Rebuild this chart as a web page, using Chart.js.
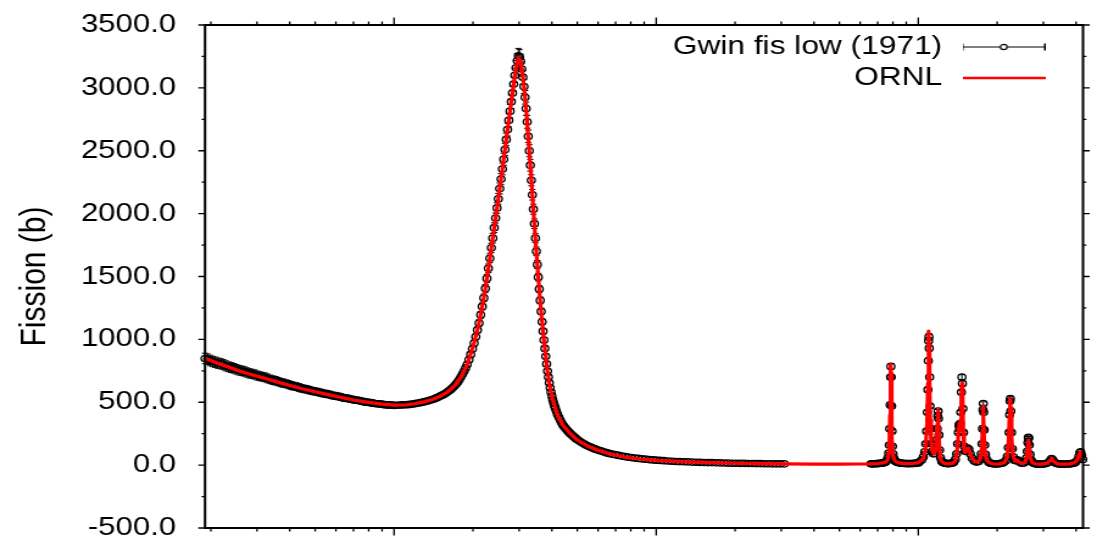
<!DOCTYPE html>
<html>
<head>
<meta charset="utf-8">
<script src="https://cdn.jsdelivr.net/npm/chart.js@4.4.1/dist/chart.umd.min.js"></script>
<style>
  html, body { margin: 0; padding: 0; background: #ffffff; }
  #wrap { width: 1097px; height: 540px; }
</style>
</head>
<body>
<div id="wrap"><canvas id="c" width="900" height="540" style="width:1097px;height:540px;display:block"></canvas></div>
<script>
// ---------------- data (energy in eV, cross section in barn) ----------------
const seriesNames = ['Gwin fis low (1971)', 'ORNL'];
const yTitle = 'Fission (b)';

const xMin = 0.019;
const xMax = 42.5;
const xMajorTicks = [0.1, 1, 10];
const xMinorTicks = [0.02, 0.03, 0.04, 0.05, 0.06, 0.07, 0.08, 0.09,
                     0.2, 0.3, 0.4, 0.5, 0.6, 0.7, 0.8, 0.9,
                     2, 3, 4, 5, 6, 7, 8, 9, 20, 30, 40];
const yTickValues = [-500, 0, 500, 1000, 1500, 2000, 2500, 3000, 3500];
const yTickLabels = ['-500.0', '0.0', '500.0', '1000.0', '1500.0', '2000.0', '2500.0', '3000.0', '3500.0'];
const yMinorTicks = [-250, 250, 750, 1250, 1750, 2250, 2750, 3250];

// Gwin (1971) measured points, low-energy segment
const gwinLowE = [0.0190,0.0199,0.0208,0.0218,0.0228,0.0239,0.0250,0.0262,0.0274,0.0287,
                  0.0300,0.0314,0.0329,0.0345,0.0361,0.0378,0.0396,0.0414,0.0434,0.0454,
                  0.0476,0.0498,0.0522,0.0546,0.0572,0.0599,0.0627,0.0656,0.0687,0.0720,
                  0.0754,0.0789,0.0826,0.0865,0.0906,0.0949,0.0993];
const gwinLowXS = [848,832,818,806,790,776,762,750,737,726,
                   713,703,690,676,664,652,640,628,617,606,
                   596,586,577,568,559,550,541,532,524,516,
                   508,500,494,488,483,479,476];
const gwinLowErr = [42,42,41,40,40,39,38,38,37,36,
                    36,35,35,34,33,33,32,31,31,30,
                    30,29,29,28,28,28,27,27,26,26,
                    25,25,25,24,24,24,24];

// Gwin (1971) low-energy segment, intermediate points
const gwinLow2E = [0.01945,0.02035,0.0213,0.0223,0.02335,0.02445,0.0256,0.0268,0.02805,0.02935,
                   0.0307,0.03215,0.0337,0.0353,0.03695,0.0387,0.0405,0.0424,0.0444,0.0465,
                   0.0487,0.0510,0.0534,0.0559,0.05855,0.0613,0.06415,0.06715,0.07035,0.0737,
                   0.07715,0.08075,0.08455,0.08855,0.09275,0.0971];
const gwinLow2XS = [842,824,811,799,782,770,755,745,730,721,
                    707,698,682,671,657,647,633,624,610,602,
                    590,582,571,564,553,546,535,529,519,513,
                    503,498,490,486,480,478];
const gwinLow2Err = [42,41,41,40,39,38,38,37,37,36,
                     35,35,34,34,33,32,32,31,30,30,
                     29,29,28,28,28,27,27,26,26,25,
                     25,25,24,24,24,24];

// Gwin (1971) measured points, 0.1 - 3.1 eV segment
const gwinMidE = [0.100,0.105,0.110,0.115,0.120,0.125,0.130,0.135,0.140,0.145,
                  0.150,0.155,0.160,0.165,0.170,0.175,0.180,0.185,0.190,0.193,
                  0.196,0.199,0.202,0.205,0.208,0.211,0.214,0.217,0.220,0.223,
                  0.226,0.229,0.232,0.235,0.238,0.241,0.244,0.247,0.250,0.253,
                  0.256,0.259,0.262,0.265,0.268,0.271,0.274,0.277,0.280,0.283,
                  0.286,0.289,0.292,0.295,0.298,0.301,0.304,0.307,0.310,0.313,
                  0.316,0.319,0.322,0.325,0.328,0.331,0.334,0.337,0.340,0.343,
                  0.346,0.349,0.352,0.355,0.358,0.361,0.364,0.367,0.370,0.373,
                  0.376,0.379,0.382,0.385,0.388,0.391,0.394,0.397,0.400,0.403,
                  0.406,0.409,0.412,0.420,0.430,0.440,0.450,0.460,0.470,0.480,
                  0.490,0.500,0.520,0.540,0.560,0.580,0.600,0.630,0.660,0.700,
                  0.740,0.780,0.830,0.880,0.940,1.00,1.07,1.15,1.23,1.32,
                  1.42,1.52,1.63,1.75,1.88,2.02,2.17,2.33,2.50,2.68,
                  2.88,3.08];
const gwinMidXS = [474,478,480,483,489,496,503,512,522,534,
                   549,563,583,604,631,662,702,748,800,838,
                   880,925,970,1020,1075,1130,1195,1262,1330,1405,
                   1485,1565,1645,1728,1805,1888,1965,2045,2118,2200,
                   2275,2355,2432,2510,2590,2668,2742,2815,2890,2960,
                   3030,3100,3160,3215,3255,3245,3210,3150,3085,3010,
                   2925,2835,2730,2615,2500,2385,2265,2150,2035,1920,
                   1805,1700,1595,1495,1400,1310,1222,1140,1065,995,
                   928,865,805,748,700,655,615,580,550,522,
                   497,475,455,405,360,322,295,272,252,235,
                   218,203,180,160,145,131,120,106,93,82,
                   72,64,56,50,44,39,35,31,28,26,
                   23,21,20,18,16,15,14,13,12,11,
                   10,10];
const gwinMidErr = [12,12,12,12,12,12,12,12,13,13,
                    13,14,14,15,15,16,17,18,19,20,
                    21,22,23,24,25,26,27,28,30,31,
                    32,34,35,36,38,39,40,42,43,44,
                    45,47,48,49,50,51,52,53,54,55,
                    56,57,58,58,59,59,58,57,56,55,
                    54,53,51,50,48,46,44,42,40,38,
                    36,34,32,30,28,27,25,24,22,21,
                    20,19,18,17,16,15,14,14,13,12,
                    12,11,11,10,9,8,7,7,6,6,
                    6,5,5,4,4,4,3,3,3,3,
                    2,2,2,2,2,2,2,2,2,2,
                    2,2,2,2,2,2,2,2,2,2,
                    2,2];

// Gwin (1971) 0.1 - 3.1 eV segment, intermediate points
const gwinMid2E = [0.1025,0.1075,0.1125,0.1175,0.1225,0.1275,0.1325,0.1375,0.1425,0.1475,
                   0.1525,0.1575,0.1625,0.1675,0.1725,0.1775,0.1825,0.1875,
                   0.416,0.425,0.435,0.445,0.455,0.465,0.475,0.485,0.495,0.510,
                   0.530,0.550,0.570,0.590,0.615,0.645,0.680,0.720,0.760,0.805,
                   0.855,0.910,0.970,1.035,1.11,1.19,1.275,1.37,1.47,1.575,
                   1.69,1.815,1.95,2.095,2.25,2.415,2.59,2.78,2.98];
const gwinMid2XS = [476,479,481,486,492,499,507,517,528,541,
                    556,573,593,617,646,681,724,773,
                    430,382,340,308,283,262,243,226,210,191,
                    170,152,138,125,113,99,87,77,68,60,
                    53,47,41,37,33,29,27,24,22,20,
                    19,17,15,14,13,12,11,10,10];
const gwinMid2Err = [12,12,12,12,12,12,12,13,13,13,
                     14,14,15,15,16,17,18,19,
                     10,9,8,8,7,7,6,6,6,5,
                     5,4,4,4,3,3,3,3,2,2,
                     2,2,2,2,2,2,2,2,2,2,
                     2,2,2,2,2,2,2,2,2];

// Gwin (1971) measured points, resonance segment
const gwinResE = [6.60,6.75,6.90,7.05,7.20,7.32,7.42,7.52,7.60,7.66,
                  7.71,7.75,7.78,7.81,7.84,7.86,7.88,7.91,7.94,7.97,
                  8.01,8.07,8.15,8.28,8.45,8.65,8.90,9.15,9.40,9.65,
                  9.90,10.10,10.30,10.45,10.58,10.68,10.76,10.83,10.88,10.92,
                  10.95,10.98,11.01,11.05,11.09,11.14,11.21,11.30,11.42,11.55,
                  11.65,11.73,11.80,11.86,11.90,11.94,11.99,12.06,12.15,12.28,
                  12.45,12.70,12.95,13.20,13.45,13.65,13.85,14.00,14.12,14.22,
                  14.30,14.36,14.44,14.52,14.60,14.67,14.73,14.80,14.88,14.98,
                  15.10,15.25,15.42,15.60,15.80,16.05,16.35,16.65,16.95,17.20,
                  17.38,17.50,17.58,17.65,17.70,17.76,17.83,17.92,18.05,18.25,
                  18.55,18.90,19.30,19.75,20.20,20.70,21.15,21.55,21.85,22.05,
                  22.20,22.30,22.38,22.45,22.55,22.68,22.85,23.05,23.30,23.60,
                  23.85,24.10,24.45,24.85,25.25,25.60,25.85,26.05,26.20,26.30,
                  26.40,26.52,26.70,26.95,27.30,27.80,28.40,29.10,29.90,30.70,
                  31.40,31.90,32.25,32.60,33.10,33.80,34.70,35.70,36.80,37.90,
                  38.90,39.80,40.50,41.00,41.35,41.65,42.00,42.40];
const gwinResXS = [10,11,12,13,15,17,21,27,38,58,
                   95,160,290,480,700,785,700,470,270,150,
                   90,55,35,24,18,15,13,12,13,15,
                   19,26,40,65,105,170,270,420,600,830,
                   990,1020,930,700,470,290,170,110,90,95,
                   130,200,290,390,430,370,240,120,60,32,
                   20,14,12,13,16,24,45,90,170,260,
                   320,300,330,420,580,700,650,450,260,150,
                   110,115,135,125,90,55,32,24,28,45,
                   90,170,290,440,490,420,280,160,85,45,
                   24,15,11,10,11,14,20,35,70,140,
                   260,400,510,530,430,260,130,65,38,35,
                   42,35,22,15,17,28,55,110,180,220,
                   215,160,85,40,20,12,9,8,9,13,
                   22,38,52,42,22,12,9,8,9,10,
                   14,22,40,70,100,106,80,45];
const gwinResErr = [2,2,2,2,2,2,2,2,3,4,
                    5,7,10,15,20,22,20,15,10,7,
                    5,4,3,2,2,2,2,2,2,2,
                    2,2,3,4,5,7,10,13,17,22,
                    25,26,24,19,14,10,7,5,4,4,
                    5,7,9,11,12,11,8,5,4,3,
                    2,2,2,2,2,2,3,5,7,9,
                    10,10,10,12,16,19,18,13,9,6,
                    5,5,5,5,4,3,3,2,2,3,
                    4,7,9,12,13,12,9,6,4,3,
                    2,2,2,2,2,2,2,3,4,6,
                    8,11,14,14,12,8,5,4,3,3,
                    3,3,2,2,2,2,3,5,7,8,
                    8,6,4,3,2,2,2,2,2,2,
                    2,3,3,3,2,2,2,2,2,2,
                    2,2,3,4,5,5,4,3];

// Gwin (1971) resonance segment, extra points between the peaks
const gwinRes2E = [6.68,6.83,6.98,7.12,7.26,7.37,7.47,
                   8.21,8.36,8.55,8.77,9.02,9.27,9.52,9.77,10.0,
                   12.36,12.57,12.82,13.07,13.32,13.55,
                   18.72,19.1,19.52,19.97,20.45,20.92,
                   27.05,27.55,28.1,28.75,29.5,30.3,
                   33.45,34.25,35.2,36.25,37.35,38.4,39.35];
const gwinRes2XS = [10,11,12,14,16,19,24,
                    29,21,16,14,12,12,12,14,17,
                    25,17,13,12,14,19,
                    19,13,10,10,12,17,
                    30,16,10,8,8,11,
                    16,10,8,8,9,12,17];
const gwinRes2Err = [2,2,2,2,2,2,2,
                     2,2,2,2,2,2,2,2,2,
                     2,2,2,2,2,2,
                     2,2,2,2,2,2,
                     2,2,2,2,2,2,
                     2,2,2,2,2,2,2];

// ORNL evaluation (red curve)
const ornlE = [0.0190,0.0210,0.0235,0.0253,0.0280,0.0320,0.0360,0.0400,0.0450,0.0500,
               0.0560,0.0630,0.0700,0.0800,0.0900,0.1000,0.110,0.120,0.130,0.140,
               0.150,0.160,0.170,0.180,0.190,0.200,0.210,0.220,0.230,0.240,
               0.250,0.260,0.270,0.280,0.290,0.295,0.298,0.301,0.305,0.310,
               0.315,0.320,0.325,0.330,0.335,0.340,0.345,0.350,0.355,0.360,
               0.365,0.370,0.375,0.385,0.392,0.400,0.410,0.420,0.440,0.470,
               0.500,0.550,0.600,0.670,0.770,0.900,1.03,1.30,1.60,2.00,
               2.50,3.10,4.00,5.00,6.00,6.50,7.00,7.30,7.50,7.60,
               7.70,7.75,7.80,7.83,7.85,7.87,7.90,7.93,7.97,8.05,
               8.20,8.50,9.00,9.50,10.00,10.40,10.65,10.80,10.88,10.93,
               10.96,10.99,11.04,11.10,11.20,11.35,11.50,11.65,11.75,11.83,
               11.89,11.94,12.00,12.10,12.25,12.50,13.00,13.50,13.80,14.00,
               14.15,14.27,14.33,14.40,14.50,14.60,14.68,14.76,14.85,14.95,
               15.10,15.30,15.50,15.70,16.00,16.40,16.90,17.20,17.45,17.58,
               17.66,17.74,17.85,18.00,18.30,18.80,19.50,20.50,21.30,21.80,
               22.10,22.30,22.40,22.50,22.70,23.00,23.40,23.80,24.20,24.80,
               25.50,25.90,26.15,26.30,26.45,26.70,27.20,28.00,29.50,31.00,
               31.80,32.30,32.80,34.00,36.00,38.00,39.50,40.50,41.20,41.60,
               42.00,42.50];
const ornlXS = [850,814,778,752,724,690,660,634,606,583,
                561,538,518,499,485,477,478,488,503,522,
                548,582,630,700,800,940,1110,1330,1590,1860,
                2120,2380,2640,2890,3120,3200,3240,3230,3190,3090,
                2960,2800,2610,2420,2230,2030,1840,1660,1490,1335,
                1190,1065,950,740,640,550,470,400,320,250,
                200,150,118,88,62,45,36,26,20,15,
                12,10,8,8,9,10,13,17,25,36,
                70,140,400,700,800,730,430,230,115,55,
                28,16,12,13,20,45,120,330,650,960,
                1065,950,640,360,170,100,88,120,210,330,
                435,355,190,75,32,16,10,14,30,80,
                170,300,330,270,360,560,650,500,260,130,
                100,118,135,108,58,30,26,45,120,280,
                470,400,200,85,36,15,9,10,20,60,
                180,400,530,455,210,75,32,40,26,13,
                20,60,150,200,165,65,20,10,8,15,
                35,53,30,10,8,10,20,45,90,106,
                80,40];

// ---------------- chart ----------------
const FONT = "'Liberation Sans', Arial, Helvetica, sans-serif";

function toPoints(E, S) { return E.map((e, i) => ({ x: e, y: S[i] })); }
const gwinSegments = [
  [gwinLowE, gwinLowXS, gwinLowErr], [gwinLow2E, gwinLow2XS, gwinLow2Err],
  [gwinMidE, gwinMidXS, gwinMidErr], [gwinMid2E, gwinMid2XS, gwinMid2Err],
  [gwinResE, gwinResXS, gwinResErr], [gwinRes2E, gwinRes2XS, gwinRes2Err]
];
const gwinPoints = [].concat(...gwinSegments.map(s => toPoints(s[0], s[1])));

function makeSample(kind) {
  const c = document.createElement('canvas');
  c.width = 68; c.height = 10;
  const g = c.getContext('2d');
  if (kind === 'err') {
    g.strokeStyle = '#000'; g.lineWidth = 1;
    g.beginPath();
    g.moveTo(0.5, 5); g.lineTo(67.5, 5);
    g.moveTo(0.5, 1.5); g.lineTo(0.5, 8.5);
    g.moveTo(67.5, 1.5); g.lineTo(67.5, 8.5);
    g.stroke();
    g.lineWidth = 1.2;
    g.beginPath(); g.arc(34, 5, 2.7, 0, Math.PI * 2);
    g.fillStyle = '#fff'; g.fill(); g.stroke();
  } else {
    g.strokeStyle = '#ff0000'; g.lineWidth = 2.6;
    g.beginPath(); g.moveTo(0, 5); g.lineTo(68, 5); g.stroke();
  }
  return c;
}
const samples = [makeSample('err'), makeSample('line')];

const errBarPlugin = {
  id: 'errBars',
  beforeDatasetsDraw(chart) {
    const { ctx, scales: { x, y } } = chart;
    ctx.save();
    ctx.strokeStyle = '#000';
    ctx.lineWidth = 1;
    ctx.beginPath();
    for (const [E, S, R] of gwinSegments) {
      for (let i = 0; i < E.length; i++) {
        const px = x.getPixelForValue(E[i]);
        const y1 = y.getPixelForValue(S[i] - R[i]);
        const y2 = y.getPixelForValue(S[i] + R[i]);
        ctx.moveTo(px, y1); ctx.lineTo(px, y2);
        ctx.moveTo(px - 2.6, y1); ctx.lineTo(px + 2.6, y1);
        ctx.moveTo(px - 2.6, y2); ctx.lineTo(px + 2.6, y2);
      }
    }
    ctx.stroke();
    ctx.restore();
  }
};

const framePlugin = {
  id: 'frame',
  afterLayout(chart) {
    const lg = chart.legend;
    if (!lg) return;
    const pad = lg.options.labels.padding;
    const w = lg.width, h = lg.height;
    lg.left = 861 + pad - w;
    lg.right = lg.left + w;
    lg.top = 29;
    lg.bottom = lg.top + h;
  },
  afterDatasetsDraw(chart) {
    const { ctx, chartArea: a, scales: { x, y } } = chart;
    ctx.save();
    ctx.strokeStyle = '#000';
    ctx.lineWidth = 2;
    ctx.strokeRect(a.left, a.top, a.right - a.left, a.bottom - a.top);
    ctx.lineWidth = 1.3;
    ctx.beginPath();
    const yTick = (v, len) => {
      const p = y.getPixelForValue(v);
      ctx.moveTo(a.left - len, p); ctx.lineTo(a.left, p);
      ctx.moveTo(a.right, p); ctx.lineTo(a.right + len, p);
    };
    const xTick = (v, len) => {
      const p = x.getPixelForValue(v);
      ctx.moveTo(p, a.bottom); ctx.lineTo(p, a.bottom + len);
      ctx.moveTo(p, a.top); ctx.lineTo(p, a.top - len);
    };
    yTickValues.forEach(v => yTick(v, 5.5));
    yMinorTicks.forEach(v => yTick(v, 2.8));
    xMajorTicks.forEach(v => xTick(v, 7.5));
    xMinorTicks.forEach(v => xTick(v, 3.5));
    ctx.stroke();
    ctx.restore();
  }
};

new Chart(document.getElementById('c'), {
  type: 'scatter',
  data: {
    datasets: [
      {
        label: seriesNames[0],
        data: gwinPoints,
        showLine: false,
        pointStyle: 'circle',
        pointRadius: 3.2,
        pointHoverRadius: 3.2,
        pointBorderWidth: 1.3,
        pointBorderColor: '#000',
        pointBackgroundColor: 'rgba(0,0,0,0)',
        borderColor: '#000',
        clip: false,
        order: 2
      },
      {
        label: seriesNames[1],
        data: toPoints(ornlE, ornlXS),
        showLine: true,
        borderColor: '#ff0000',
        borderWidth: 3.2,
        borderJoinStyle: 'round',
        borderCapStyle: 'round',
        pointRadius: 0,
        tension: 0,
        order: 1
      }
    ]
  },
  options: {
    responsive: false,
    devicePixelRatio: 1,
    animation: false,
    events: [],
    layout: { padding: { left: 0, right: 11.5, top: 25, bottom: 12 } },
    plugins: {
      tooltip: { enabled: false },
      legend: {
        position: 'chartArea',
        align: 'start',
        rtl: true,
        labels: {
          usePointStyle: true,
          pointStyleWidth: 75,
          padding: 5,
          color: '#000',
          font: { family: FONT, size: 26 },
          generateLabels: (chart) => chart.data.datasets.map((ds, i) => ({
            text: ds.label,
            pointStyle: samples[i],
            fillStyle: 'rgba(0,0,0,0)',
            strokeStyle: 'rgba(0,0,0,0)',
            lineWidth: 0,
            hidden: false,
            fontColor: '#000',
            datasetIndex: i
          }))
        }
      }
    },
    scales: {
      x: {
        type: 'logarithmic',
        position: 'bottom',
        min: xMin,
        max: xMax,
        ticks: { display: false },
        grid: { display: false, drawTicks: false },
        border: { display: false },
        afterFit: (s) => { s.height = 0; s.paddingLeft = 0; s.paddingRight = 0; }
      },
      y: {
        type: 'linear',
        position: 'left',
        min: -500,
        max: 3500,
        afterBuildTicks: (s) => { s.ticks = yTickValues.map(v => ({ value: v })); },
        ticks: {
          autoSkip: false,
          padding: 23.8,
          color: '#000',
          font: { family: FONT, size: 25.5 },
          callback: (v, i) => yTickLabels[i]
        },
        grid: { display: false, drawTicks: false },
        border: { display: false },
        title: {
          display: true,
          text: yTitle,
          color: '#000',
          font: { family: FONT, size: 30 },
          padding: { top: 11, bottom: 0 }
        },
        afterFit: (s) => { s.width = 168.2; s.paddingTop = 0; s.paddingBottom = 0; }
      }
    }
  },
  plugins: [errBarPlugin, framePlugin]
});
</script>
</body>
</html>
